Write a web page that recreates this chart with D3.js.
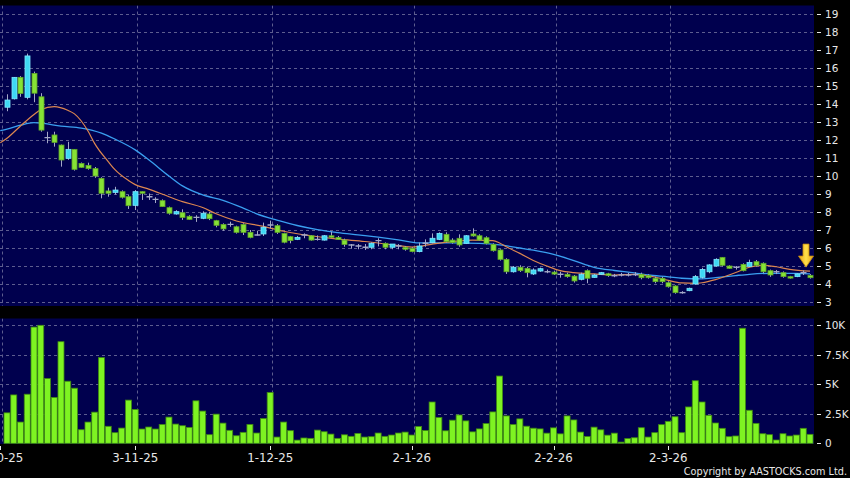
<!DOCTYPE html>
<html><head><meta charset="utf-8">
<script src="https://cdn.jsdelivr.net/npm/d3@7"></script>
<style>html,body{margin:0;padding:0;background:#000;}svg{display:block;}</style>
</head><body>
<svg id="chart" width="850" height="478"></svg>
<script>
// ---- data ----
const opens  = [13.82,14.29,15.48,14.37,15.7,14.4,12.13,12.28,11.72,10.98,11.48,10.7,10.59,10.41,9.87,9.17,9.09,9.13,8.85,8.37,
9.13,8.85,8.7,8.63,8.24,7.89,7.96,7.76,7.7,7.65,7.89,7.52,7.31,7.31,7.18,7.31,6.87,6.72,6.78,7.28,
7.24,6.81,6.63,6.48,6.72,6.68,6.48,6.44,6.68,6.59,6.44,6.17,6.11,6.04,6.04,6.41,6.26,6.04,6.11,6.04,
5.98,5.8,6.26,6.3,6.48,6.76,6.44,6.54,6.26,6.78,6.68,6.57,6.2,5.89,5.37,4.68,4.93,4.87,4.56,4.72,
4.68,4.66,4.54,4.54,4.44,4.26,4.74,4.37,4.54,4.57,4.46,4.5,4.5,4.52,4.54,4.46,4.32,4.32,4.07,3.89,
3.52,3.63,4.0,4.37,4.68,5.0,5.48,5.0,4.93,5.09,4.98,5.24,5.15,4.74,4.68,4.63,4.41,4.41,4.63,4.48];
const highs  = [14.54,15.5,15.55,16.8,15.8,14.6,12.46,12.46,11.75,11.9,11.5,10.75,10.74,10.5,9.93,9.35,9.4,9.2,8.94,9.22,
9.15,9.03,8.82,8.7,8.3,8.1,8.15,7.82,7.82,8.04,8.0,7.56,7.37,7.46,7.24,7.37,7.0,6.96,7.41,7.52,
7.33,6.85,6.67,6.67,6.81,6.72,6.7,6.72,6.91,6.67,6.52,6.22,6.22,6.22,6.31,6.54,6.31,6.2,6.22,6.11,
6.04,6.3,6.48,6.81,6.87,6.87,6.54,6.76,6.72,7.09,6.76,6.65,6.26,5.93,5.43,5.0,5.04,4.96,4.87,4.91,
4.8,4.74,4.68,4.63,4.5,4.63,4.81,4.56,4.67,4.62,4.56,4.62,4.62,4.66,4.63,4.54,4.4,4.4,4.15,3.93,
3.6,3.8,4.5,4.9,5.1,5.43,5.5,5.04,5.0,5.15,5.35,5.33,5.2,4.8,4.78,4.7,4.45,4.6,4.75,4.55];
const lows   = [13.6,14.25,14.4,14.26,14.1,12.46,11.82,11.63,10.52,10.9,10.3,10.45,10.35,9.9,8.76,8.85,8.97,8.75,8.17,8.11,
8.67,8.67,8.5,8.28,7.85,7.85,7.56,7.56,7.45,7.6,7.55,7.15,6.96,7.18,6.8,6.72,6.54,6.7,6.67,7.09,
6.78,6.26,6.26,6.44,6.54,6.41,6.41,6.41,6.56,6.46,6.07,5.96,5.93,5.89,5.93,6.09,5.93,5.93,5.93,5.85,
5.76,5.76,6.07,6.26,6.44,6.3,6.24,6.07,6.22,6.63,6.41,6.2,5.8,5.3,4.56,4.63,4.67,4.37,4.5,4.68,
4.6,4.5,4.35,4.35,4.08,4.2,4.04,4.35,4.5,4.4,4.38,4.42,4.42,4.44,4.26,4.3,4.04,4.04,3.8,3.46,
3.46,3.6,3.96,4.3,4.6,4.96,4.98,4.85,4.8,4.7,4.94,4.98,4.6,4.4,4.55,4.35,4.3,4.38,4.5,4.3];
const closes = [14.22,15.48,14.59,16.67,14.6,12.55,12.13,11.87,10.89,11.48,10.37,10.48,10.41,10.0,9.04,9.04,9.22,8.82,8.35,9.13,
9.04,8.85,8.7,8.3,7.93,8.02,7.7,7.59,7.7,7.93,7.63,7.26,7.06,7.31,6.87,6.87,6.59,6.72,7.15,7.28,
6.87,6.32,6.41,6.59,6.72,6.44,6.48,6.68,6.59,6.48,6.2,6.17,6.11,6.04,6.26,6.41,6.04,6.22,6.11,5.93,
5.8,6.11,6.26,6.54,6.81,6.35,6.3,6.17,6.68,6.67,6.44,6.26,5.85,5.37,4.68,4.93,4.74,4.63,4.78,4.85,
4.68,4.55,4.54,4.41,4.17,4.54,4.32,4.5,4.63,4.47,4.46,4.5,4.5,4.52,4.35,4.35,4.13,4.13,3.85,3.52,
3.52,3.76,4.41,4.81,5.06,5.37,5.04,4.87,4.93,4.74,5.2,5.04,4.68,4.5,4.68,4.41,4.35,4.56,4.63,4.35];
const volumes = [2580,4100,1800,4160,9850,10000,5490,3890,8610,5260,4670,1150,1800,2640,7260,1440,900,1290,3660,2870,
1210,1380,1210,1600,2220,1630,1490,1350,3600,2730,730,2470,1710,1100,640,930,1600,870,2100,4300,
530,1800,1070,270,450,420,1120,980,780,420,720,590,840,530,560,870,590,700,870,950,
700,1420,1080,3500,2180,1060,1960,2400,1900,970,1220,1670,2660,5700,2320,1590,2070,1450,1280,1220,
860,1310,800,2320,1980,950,570,1370,1140,690,860,100,400,470,1320,530,900,1580,1860,2250,
900,3080,5300,3500,2370,1720,1270,560,620,9750,2800,1690,810,730,280,810,620,700,1270,760];
const ma10Idx = [-1,0,2,4,5,7,9,10,12,13,15,16,18,19,21,24,26,29,31,34,38,41,45,49,53,57,60,61,63,66,69,72,73,74,76,78,80,82,84,87,90,93,96,98,100,102,103,105,108,110,112,114,116,119];
const ma10Val = [11.85,12.1,12.78,13.42,13.68,13.85,13.65,13.45,12.5,11.8,10.8,10.35,9.75,9.52,9.27,8.85,8.58,8.25,7.9,7.5,7.2,6.93,6.68,6.49,6.36,6.18,6.05,6.08,6.22,6.35,6.44,6.41,6.28,6.07,5.7,5.31,5.0,4.74,4.63,4.56,4.5,4.54,4.39,4.2,4.06,4.04,4.07,4.24,4.64,4.93,5.04,4.96,4.81,4.71];
const ma20Idx = [-1,0,2,4,5,8,11,14,16,19,21,24,26,29,32,35,37,40,43,46,49,52,55,58,61,66,70,73,76,78,81,84,87,90,93,95,98,100,103,105,108,110,113,115,117,119];
const ma20Val = [12.52,12.6,12.82,12.96,12.94,12.77,12.66,12.38,12.05,11.45,10.9,10.0,9.45,8.95,8.65,8.22,7.9,7.55,7.25,7.02,6.86,6.73,6.6,6.45,6.28,6.29,6.26,6.17,6.0,5.88,5.65,5.3,4.93,4.75,4.62,4.5,4.4,4.32,4.28,4.35,4.47,4.54,4.59,4.59,4.59,4.56];
const dateLabels = ["2-10-25","3-11-25","1-12-25","2-1-26","2-2-26","2-3-26"];
const dateIdx = [-1,19,39,60,81,98];
const priceTicks = [3,4,5,6,7,8,9,10,11,12,13,14,15,16,17,18,19];
const volTicks = [0,2500,5000,7500,10000];
const volTickLabels = ["0","2.5K","5K","7.5K","10K"];

// ---- layout ----
const svg = d3.select("#chart");
const W = 850, H = 478;
const plotL = 0, plotR = 814;
const priceTop = 5.5, priceBot = 306;
const volTop = 318.5, volBot = 444;
const N = closes.length;

const x = d3.scaleLinear().domain([0, N - 1]).range([7, 810]);
const yP = d3.scaleLinear().domain([3, 19]).range([302, 14]);
const yV = d3.scaleLinear().domain([0, 10000]).range([443.3, 325.3]);

const bg = "#00004e", grid = "#5d5d8f", txt = "#e8e8e8";
svg.append("rect").attr("width", W).attr("height", H).attr("fill", "#000");
svg.append("rect").attr("x", plotL).attr("y", priceTop).attr("width", plotR - plotL).attr("height", priceBot - priceTop).attr("fill", bg);
svg.append("rect").attr("x", plotL).attr("y", volTop).attr("width", plotR - plotL).attr("height", volBot - volTop).attr("fill", bg);

const defs = svg.append("defs");
defs.append("clipPath").attr("id", "clipP").append("rect").attr("x", plotL).attr("y", priceTop).attr("width", plotR - plotL).attr("height", priceBot - priceTop);
defs.append("clipPath").attr("id", "clipV").append("rect").attr("x", plotL).attr("y", volTop).attr("width", plotR - plotL).attr("height", volBot - volTop);
const grad = defs.append("linearGradient").attr("id", "arrowGrad").attr("x1", 0).attr("x2", 1).attr("y1", 0).attr("y2", 0);
grad.append("stop").attr("offset", "0%").attr("stop-color", "#e8a010");
grad.append("stop").attr("offset", "50%").attr("stop-color", "#ffe04a");
grad.append("stop").attr("offset", "100%").attr("stop-color", "#e8a010");

// grid lines
const gP = svg.append("g").attr("clip-path", "url(#clipP)");
const gV = svg.append("g").attr("clip-path", "url(#clipV)");
gP.selectAll("line.h").data(priceTicks).join("line")
  .attr("x1", plotL).attr("x2", plotR).attr("y1", d => Math.round(yP(d)) + 0.5).attr("y2", d => Math.round(yP(d)) + 0.5)
  .attr("stroke", grid).attr("stroke-dasharray", "3,3");
gV.selectAll("line.h").data(volTicks.slice(1)).join("line")
  .attr("x1", plotL).attr("x2", plotR).attr("y1", d => Math.round(yV(d)) + 0.5).attr("y2", d => Math.round(yV(d)) + 0.5)
  .attr("stroke", grid).attr("stroke-dasharray", "3,3");
[gP, gV].forEach((g, k) => {
  g.selectAll("line.v").data(dateIdx).join("line")
    .attr("x1", d => Math.round(x(d)) + 2.5).attr("x2", d => Math.round(x(d)) + 2.5)
    .attr("y1", k ? volTop : priceTop).attr("y2", k ? volBot : priceBot)
    .attr("stroke", grid).attr("stroke-dasharray", "3,3");
});

// moving averages
const ma10 = ma10Idx.map((d, k) => ({i: d, v: ma10Val[k]}));
const ma20 = ma20Idx.map((d, k) => ({i: d, v: ma20Val[k]}));
const line = d3.line().x(d => x(d.i)).y(d => yP(d.v)).curve(d3.curveMonotoneX);
gP.append("path").attr("d", line(ma20)).attr("fill", "none").attr("stroke", "#3a9ff0").attr("stroke-width", 1.3);
gP.append("path").attr("d", line(ma10)).attr("fill", "none").attr("stroke", "#dc8650").attr("stroke-width", 1.2);

// candles
const candles = d3.range(N).map(i => ({i, o: opens[i], h: highs[i], l: lows[i], c: closes[i]}));
const cg = gP.selectAll("g.c").data(candles).join("g");
cg.append("line")
  .attr("x1", d => Math.round(x(d.i)) + 0.5).attr("x2", d => Math.round(x(d.i)) + 0.5)
  .attr("y1", d => yP(d.h)).attr("y2", d => yP(d.l))
  .attr("stroke", "#a4a8c8").attr("stroke-width", 1);
cg.each(function(d) {
  const g = d3.select(this);
  const cx = Math.round(x(d.i)) + 0.5;
  if (d.o === d.c) {
    g.append("line").attr("x1", cx - 3).attr("x2", cx + 3).attr("y1", yP(d.o)).attr("y2", yP(d.o))
      .attr("stroke", "#a4a8c8").attr("stroke-width", 1.4);
  } else {
    const up = d.c > d.o;
    const y0 = yP(Math.max(d.o, d.c)), y1 = yP(Math.min(d.o, d.c));
    g.append("rect").attr("x", cx - 2.5).attr("y", y0).attr("width", 5).attr("height", Math.max(1.5, y1 - y0))
      .attr("fill", up ? "#3fd8f3" : "#86e236")
      .attr("stroke", up ? "#7fe8ff" : "#5ea626").attr("stroke-width", 0.8);
  }
});

// volume bars
gV.selectAll("rect.vb").data(volumes).join("rect")
  .attr("x", (d, i) => x(i) - 3).attr("width", 6)
  .attr("y", d => yV(d)).attr("height", d => yV(0) - yV(d))
  .attr("fill", "#7ef322").attr("stroke", "#3f8a12").attr("stroke-width", 0.8);

// arrow above last candle
const ax = x(N - 1) - 4, ay = yP(highs[N - 1]) - 7;
svg.append("path")
  .attr("d", `M${ax - 3},${ay - 23} L${ax + 3},${ay - 23} L${ax + 3},${ay - 11} L${ax + 7.5},${ay - 11} L${ax},${ay} L${ax - 7.5},${ay - 11} L${ax - 3},${ay - 11} Z`)
  .attr("fill", "url(#arrowGrad)").attr("stroke", "#c89010").attr("stroke-width", 0.8);

// right axes
const font = "DejaVu Sans, Verdana, sans-serif";
const ra = svg.append("g");
ra.selectAll("line.pt").data(priceTicks).join("line")
  .attr("x1", 817).attr("x2", 821).attr("y1", d => Math.round(yP(d)) + 0.5).attr("y2", d => Math.round(yP(d)) + 0.5)
  .attr("stroke", txt);
ra.selectAll("text.pt").data(priceTicks).join("text")
  .attr("x", 825).attr("y", d => yP(d)).attr("dy", "0.36em")
  .attr("fill", txt).attr("font-family", font).attr("font-size", 10.5).text(d => d);
ra.selectAll("line.vt").data(volTicks).join("line")
  .attr("x1", 817).attr("x2", 821).attr("y1", d => Math.round(yV(d)) + 0.5).attr("y2", d => Math.round(yV(d)) + 0.5)
  .attr("stroke", txt);
ra.selectAll("text.vt").data(volTicks).join("text")
  .attr("x", 825).attr("y", d => yV(d)).attr("dy", "0.36em")
  .attr("fill", txt).attr("font-family", font).attr("font-size", 10.5).text((d, k) => volTickLabels[k]);

// date axis
const da = svg.append("g");
da.selectAll("line").data(dateIdx).join("line")
  .attr("x1", d => Math.round(x(d)) + 0.5).attr("x2", d => Math.round(x(d)) + 0.5)
  .attr("y1", 446).attr("y2", 450).attr("stroke", txt);
da.selectAll("text").data(dateIdx).join("text")
  .attr("x", d => x(d)).attr("y", 462).attr("text-anchor", "middle")
  .attr("fill", txt).attr("font-family", font).attr("font-size", 11.8)
  .text((d, k) => dateLabels[k]);

svg.append("text").attr("x", 847).attr("y", 475).attr("text-anchor", "end")
  .attr("fill", txt).attr("font-family", font).attr("font-size", 9.7)
  .text("Copyright by AASTOCKS.com Ltd.");
</script>
</body></html>
